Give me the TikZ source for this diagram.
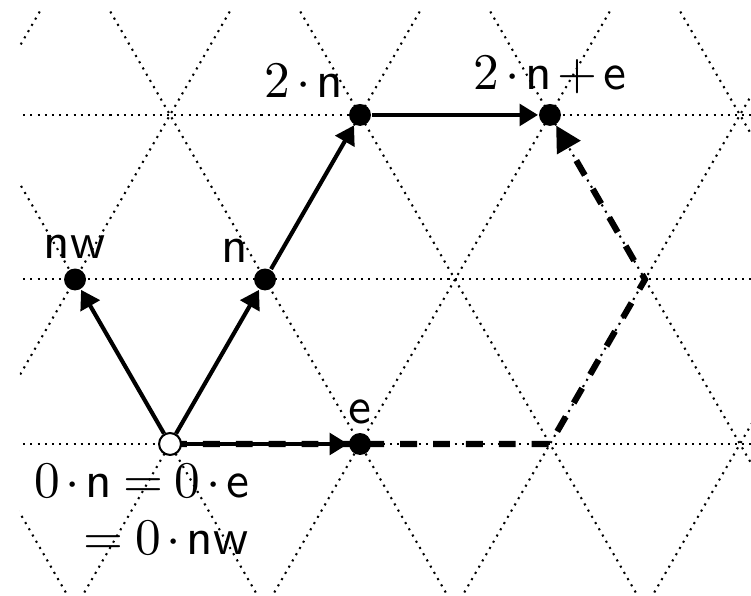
\documentclass[tikz,border=0pt]{standalone}
\usepackage{amsmath,amssymb}
\usetikzlibrary{arrows.meta,backgrounds}
\medmuskip=2mu
\thickmuskip=4mu

\begin{document}
\begin{tikzpicture}[
  x=1.3cm, y=1.3cm,
  grid/.style={densely dotted, thin},
  pt/.style={circle, fill, inner sep=0pt, minimum size=1.5mm},
  opt/.style={circle, draw, fill=white, inner sep=0pt, minimum size=1.5mm},
  lbl/.style={inner sep=1.5pt},
  arr/.style={-{Triangle[length=3.6pt,width=4.2pt]}, thick},
  darr/.style={-{Triangle[length=5pt,width=5pt]}, line width=1.2pt, dash pattern=on 3.3pt off 3.1pt}
]
\useasboundingbox (-0.895,-0.8) rectangle (3.058,2.337);
\begin{scope}[on background layer]
\clip (-0.79,-0.78) rectangle (3.06,2.284);
\foreach \j in {0,1,2} \draw[grid] (-1,\j*0.866) -- (3.2,\j*0.866);
\foreach \i in {-3,...,4} \draw[grid] (\i-1,-1.732) -- (\i+2,3.464);
\foreach \i in {-2,...,5} \draw[grid] (\i+1,-1.732) -- (\i-2,3.464);
\end{scope}
\node[opt] (o) at (0,0) {};
\node[pt, label={[lbl]above:$\mathsf{e}$}] (e) at (1,0) {};
\node[pt, label={[lbl]above left:$\mathsf{n}$}] (n) at (0.5,0.866) {};
\node[pt, label={[lbl]above:$\mathsf{nw}$}] (nw) at (-0.5,0.866) {};
\node[pt, label={[lbl]above left:$2\cdot\mathsf{n}$}] (nn) at (1,1.732) {};
\node[pt, label={[lbl]above:$2\cdot\mathsf{n}+\mathsf{e}$}] (nne) at (2,1.732) {};
\node[lbl, anchor=north east, align=right] (zero) at ([xshift=0.6cm]o.south)
  {$0\cdot\mathsf{n}=0\cdot\mathsf{e}$\\[-1pt]$=0\cdot\mathsf{nw}$};
\coordinate (c1) at (2,0);
\coordinate (c2) at (2.5,0.866);
\draw[arr] (o) -- (nw);
\draw[arr] (o) -- (n);
\draw[arr] (n) -- (nn);
\draw[arr] (nn) -- (nne);
\draw[arr] (o) -- (e);
\begin{scope}[on background layer]
\draw[darr] (o.center) -- (e.center) -- (c1) -- (c2) -- (nne);
\end{scope}
\end{tikzpicture}
\end{document}
